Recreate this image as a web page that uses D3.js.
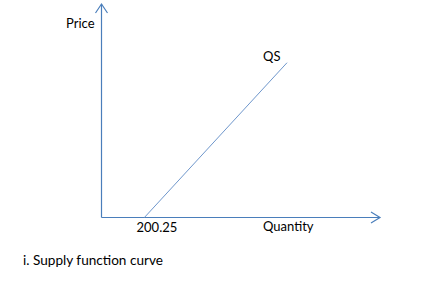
<!DOCTYPE html>
<html>
<head>
<meta charset="utf-8">
<script src="https://cdn.jsdelivr.net/npm/d3@7"></script>
<style>
  body { margin: 0; background: #fff; }
  text { font-family: Lato, "Open Sans", sans-serif; fill: #000; }
</style>
</head>
<body>
<svg id="chart" width="425" height="287"></svg>
<script>
// supply line (quantity, price)
var quantities = [200.25, 866]
var prices = [0, 72.5]
var tickLabels = ["200.25"]

var svg = d3.select("#chart")
var axisColor = "#4a7ebb"
var lineColor = "#6f97cc"

var dims = { left: 101.5, right: 380, top: 4, bottom: 217.5 }

var xScale = d3.scaleLinear().domain([0, 1300]).range([dims.left, dims.right])
var yScale = d3.scaleLinear().domain([0, 100]).range([dims.bottom, dims.top])

// axes
svg.append("line")
   .attr("x1", dims.left).attr("y1", dims.bottom)
   .attr("x2", dims.left).attr("y2", dims.top)
   .attr("stroke", axisColor).attr("stroke-width", 1.2)
svg.append("line")
   .attr("x1", dims.left).attr("y1", dims.bottom)
   .attr("x2", dims.right).attr("y2", dims.bottom)
   .attr("stroke", axisColor).attr("stroke-width", 1.2)

// open arrow heads
svg.append("path")
   .attr("d", `M${dims.left - 6},${dims.top + 9} L${dims.left},${dims.top} L${dims.left + 6},${dims.top + 9}`)
   .attr("fill", "none").attr("stroke", axisColor).attr("stroke-width", 1.2)
svg.append("path")
   .attr("d", `M${dims.right - 9},${dims.bottom - 5.5} L${dims.right},${dims.bottom} L${dims.right - 9},${dims.bottom + 5.5}`)
   .attr("fill", "none").attr("stroke", axisColor).attr("stroke-width", 1.2)

// tick label on quantity axis
var xAxis = svg.append("g")
   .attr("transform", `translate(0,${dims.bottom})`)
   .call(d3.axisBottom(xScale).tickValues([quantities[0]]).tickFormat((d, i) => tickLabels[i]).tickSize(0).tickPadding(5))
xAxis.select(".domain").remove()
xAxis.selectAll("text")
     .attr("font-family", "Lato, sans-serif")
     .attr("font-size", 13)
     .attr("dx", 12)
     .attr("fill", "#000")

// supply curve
var line = d3.line().x((d, i) => xScale(quantities[i])).y((d, i) => yScale(d))
svg.append("path")
   .datum(prices)
   .attr("d", line)
   .attr("fill", "none")
   .attr("stroke", lineColor)
   .attr("stroke-width", 1)

// labels
svg.append("text").attr("x", 66).attr("y", 28).attr("font-size", 13).text("Price")
svg.append("text").attr("x", 263).attr("y", 231).attr("font-size", 13).text("Quantity")
svg.append("text").attr("x", 263).attr("y", 61).attr("font-size", 13).text("QS")
svg.append("text").attr("x", 23).attr("y", 265).attr("font-size", 13.6).text("i. Supply function curve")
</script>
</body>
</html>
